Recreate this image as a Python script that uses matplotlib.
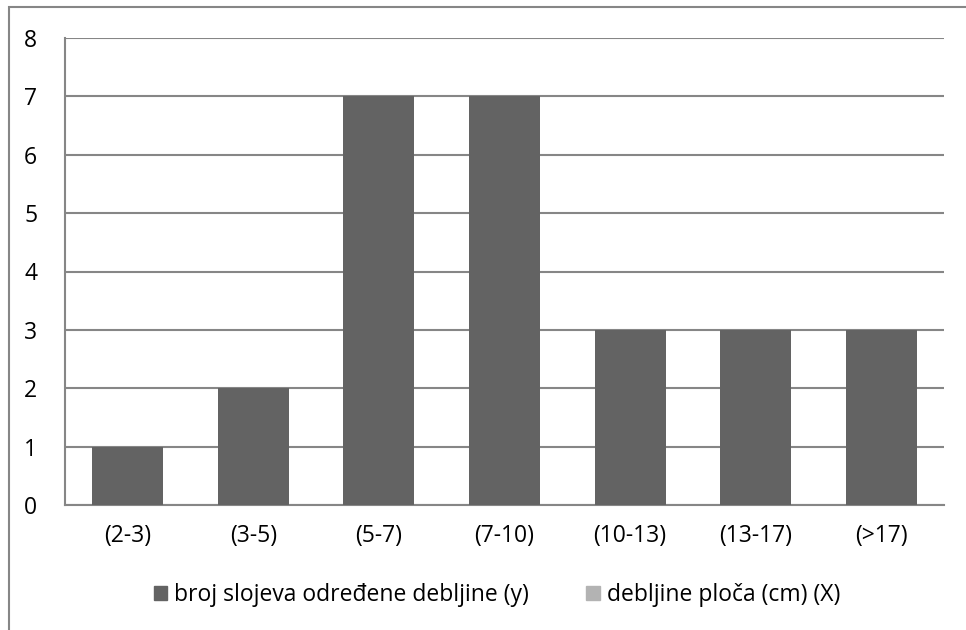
import numpy as np
import matplotlib.pyplot as plt
from matplotlib.patches import Patch, Rectangle

# data
categories = ['(2-3)', '(3-5)', '(5-7)', '(7-10)', '(10-13)', '(13-17)', '(>17)']
broj_slojeva = [1, 2, 7, 7, 3, 3, 3]
serija_y = 'broj slojeva određene debljine (y)'
serija_x = 'debljine ploča (cm) (X)'

plt.rcParams['font.family'] = ['Open Sans', 'DejaVu Sans']
plt.rcParams['font.size'] = 16.5

fig = plt.figure(figsize=(9.66, 6.3), dpi=100)
ax = fig.add_axes([65 / 966, 1 - 505 / 630, (944 - 65) / 966, (505 - 38) / 630])

x = np.arange(len(categories))
ax.bar(x, broj_slojeva, width=0.565, color='#636363', zorder=3)

ax.set_xlim(-0.5, len(categories) - 0.5)
ax.set_ylim(0, 8)
ax.set_yticks(range(0, 9))
ax.set_xticks(x)
ax.set_xticklabels(categories)
ax.grid(axis='y', color='#868686', linewidth=1.5, zorder=0)
ax.tick_params(length=0)
ax.tick_params(axis='x', pad=14)
ax.tick_params(axis='y', pad=20)
for s in ['top', 'right']:
    ax.spines[s].set_visible(False)
for s in ['left', 'bottom']:
    ax.spines[s].set_color('#868686')
    ax.spines[s].set_linewidth(1.5)

# outer chart border (only left and top visible)
fig.add_artist(Rectangle((9 / 966, -0.1), 1.2, 1 - 7 / 630 + 0.1, transform=fig.transFigure,
                         fill=False, edgecolor='#868686', linewidth=1.5))

handles = [Patch(color='#636363', label=serija_y), Patch(color='#b3b3b3', label=serija_x)]
fig.legend(handles=handles, loc='center', bbox_to_anchor=(497 / 966, 1 - 595 / 630), ncol=2,
           frameon=False, handlelength=0.6, handleheight=0.6, handletextpad=0.3, columnspacing=2.5)

fig.savefig('out.png', dpi=100)
